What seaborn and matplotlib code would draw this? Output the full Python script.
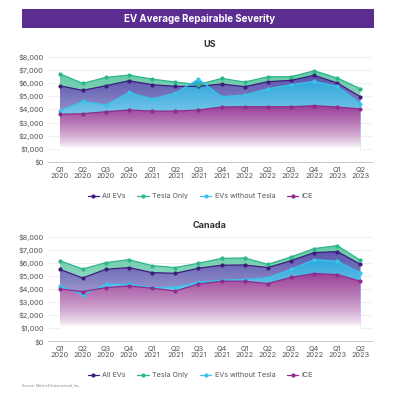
import matplotlib
matplotlib.use("Agg")
import matplotlib.pyplot as plt
import matplotlib.patches as mpatches
from matplotlib.colors import to_rgb
import numpy as np
import pandas as pd
import seaborn as sns

QUARTERS = ["Q1\n2020", "Q2\n2020", "Q3\n2020", "Q4\n2020", "Q1\n2021", "Q2\n2021", "Q3\n2021",
            "Q4\n2021", "Q1\n2022", "Q2\n2022", "Q3\n2022", "Q4\n2022", "Q1\n2023", "Q2\n2023"]
SERIES = ["All EVs", "Tesla Only", "EVs without Tesla", "ICE"]

us_all_evs = [5810, 5460, 5810, 6190, 5890, 5760, 5760, 5940, 5740, 6120, 6220, 6600, 6020, 4970]
us_tesla = [6730, 5990, 6450, 6620, 6320, 6090, 5900, 6370, 6090, 6500, 6500, 6950, 6400, 5580]
us_no_tesla = [3910, 4620, 4340, 5300, 4800, 5250, 6320, 4970, 5100, 5580, 5890, 6140, 5760, 4440]
us_ice = [3630, 3680, 3830, 3960, 3880, 3880, 3960, 4190, 4210, 4210, 4210, 4290, 4190, 4040]

ca_all_evs = [5540, 4870, 5540, 5670, 5280, 5230, 5620, 5850, 5870, 5670, 6200, 6820, 6900, 5920]
ca_tesla = [6200, 5560, 6050, 6280, 5820, 5670, 6000, 6380, 6410, 5920, 6490, 7130, 7360, 6230]
ca_no_tesla = [4260, 3560, 4380, 4380, 4130, 4150, 4540, 4700, 4750, 4900, 5540, 6280, 6150, 5260]
ca_ice = [4030, 3820, 4130, 4260, 4080, 3870, 4410, 4620, 4620, 4440, 4920, 5210, 5130, 4620]

LINE_COLORS = {"All EVs": "#3d1c7c", "Tesla Only": "#2db58c",
               "EVs without Tesla": "#38c4ec", "ICE": "#8e2b8c"}
FILL_COLORS = {"Tesla Only": "#62c9a6", "All EVs": "#5a55ad",
               "EVs without Tesla": "#2ea6dc", "ICE": "#9a3f97"}


def gradient_fill(ax, x, y, color, fade_to=1000.0):
    poly = ax.fill_between(x, 0, y, color="none", lw=0)
    path = poly.get_paths()[0]
    top = max(y)
    ys = np.linspace(0, 8000, 400)
    t = np.clip((ys - fade_to) / (top - fade_to), 0, 1) ** 0.7
    c = np.array(to_rgb(color))
    img = (1 - t)[:, None] * np.ones(3) + t[:, None] * c
    img = np.repeat(img[:, None, :], 2, axis=1)
    im = ax.imshow(img, extent=(x[0], x[-1], 0, 8000), origin="lower",
                   aspect="auto", zorder=1, interpolation="bilinear")
    patch = mpatches.PathPatch(path, transform=ax.transData, facecolor="none", edgecolor="none")
    ax.add_patch(patch)
    im.set_clip_path(patch)


def draw_panel(ax, title, values):
    x = np.arange(len(QUARTERS))
    # fills, back to front
    gradient_fill(ax, x, values["Tesla Only"], FILL_COLORS["Tesla Only"], fade_to=200)
    gradient_fill(ax, x, values["All EVs"], FILL_COLORS["All EVs"], fade_to=600)
    gradient_fill(ax, x, values["EVs without Tesla"], FILL_COLORS["EVs without Tesla"], fade_to=600)
    gradient_fill(ax, x, values["ICE"], FILL_COLORS["ICE"], fade_to=1100)

    df = pd.DataFrame({
        "x": np.tile(x, len(SERIES)),
        "value": np.concatenate([values[s] for s in SERIES]),
        "series": np.repeat(SERIES, len(x)),
    })
    sns.lineplot(data=df, x="x", y="value", hue="series", hue_order=SERIES,
                 palette=LINE_COLORS, marker="o", markersize=3.0, markeredgewidth=0,
                 linewidth=0.9, ax=ax, zorder=3, legend=True)

    ax.set_xlim(-0.5, 13.5)
    ax.set_ylim(0, 8000)
    ax.set_yticks(range(0, 8001, 1000))
    ax.set_yticklabels([f"${v:,}" for v in range(0, 8001, 1000)])
    ax.set_xticks(x)
    ax.set_xticklabels(QUARTERS)
    ax.tick_params(axis="both", length=0, labelsize=5.3, labelcolor="#555555", pad=3)
    ax.grid(axis="y", color="#ececec", lw=0.6)
    ax.grid(axis="x", visible=False)
    ax.set_axisbelow(True)
    for s in ("left", "right", "top"):
        ax.spines[s].set_visible(False)
    ax.spines["bottom"].set_color("#c8c8c8")
    ax.spines["bottom"].set_linewidth(0.7)
    ax.set_xlabel("")
    ax.set_ylabel("")
    ax.set_title(title, fontsize=6.5, fontweight="bold", color="#333333", pad=7)

    handles, labels = ax.get_legend_handles_labels()
    ax.legend(handles, labels, loc="upper center", bbox_to_anchor=(0.47, -0.235), ncol=4,
              frameon=False, fontsize=5.2, handlelength=1.6, columnspacing=1.6,
              handletextpad=0.45, labelcolor="#555555")


def main() -> None:
    sns.set_theme(style="white")
    plt.rcParams["font.family"] = ["Inter", "DejaVu Sans"]

    fig = plt.figure(figsize=(4.0, 3.97), dpi=100)
    fig.patch.set_facecolor("white")

    # title bar
    bar = mpatches.Rectangle((22 / 400, 1 - 28 / 397), 352 / 400, 19 / 397,
                             transform=fig.transFigure, facecolor="#5b2d91", edgecolor="none")
    fig.patches.append(bar)
    fig.text(0.5, 1 - 18.5 / 397, "EV Average Repairable Severity", color="white",
             fontsize=7, fontweight="bold", ha="center", va="center")

    ax_us = fig.add_axes([0.12, 0.592, 0.81, 0.2644])
    ax_ca = fig.add_axes([0.12, 0.1403, 0.81, 0.262])

    draw_panel(ax_us, "US", {"All EVs": us_all_evs, "Tesla Only": us_tesla,
                             "EVs without Tesla": us_no_tesla, "ICE": us_ice})
    draw_panel(ax_ca, "Canada", {"All EVs": ca_all_evs, "Tesla Only": ca_tesla,
                                 "EVs without Tesla": ca_no_tesla, "ICE": ca_ice})

    fig.text(22 / 400, 1 - 385 / 397, "Source: Mitchell International, Inc.",
             fontsize=2.6, color="#888888", ha="left", va="center")

    fig.savefig("out.png", dpi=100)
    plt.close(fig)


if __name__ == "__main__":
    main()
